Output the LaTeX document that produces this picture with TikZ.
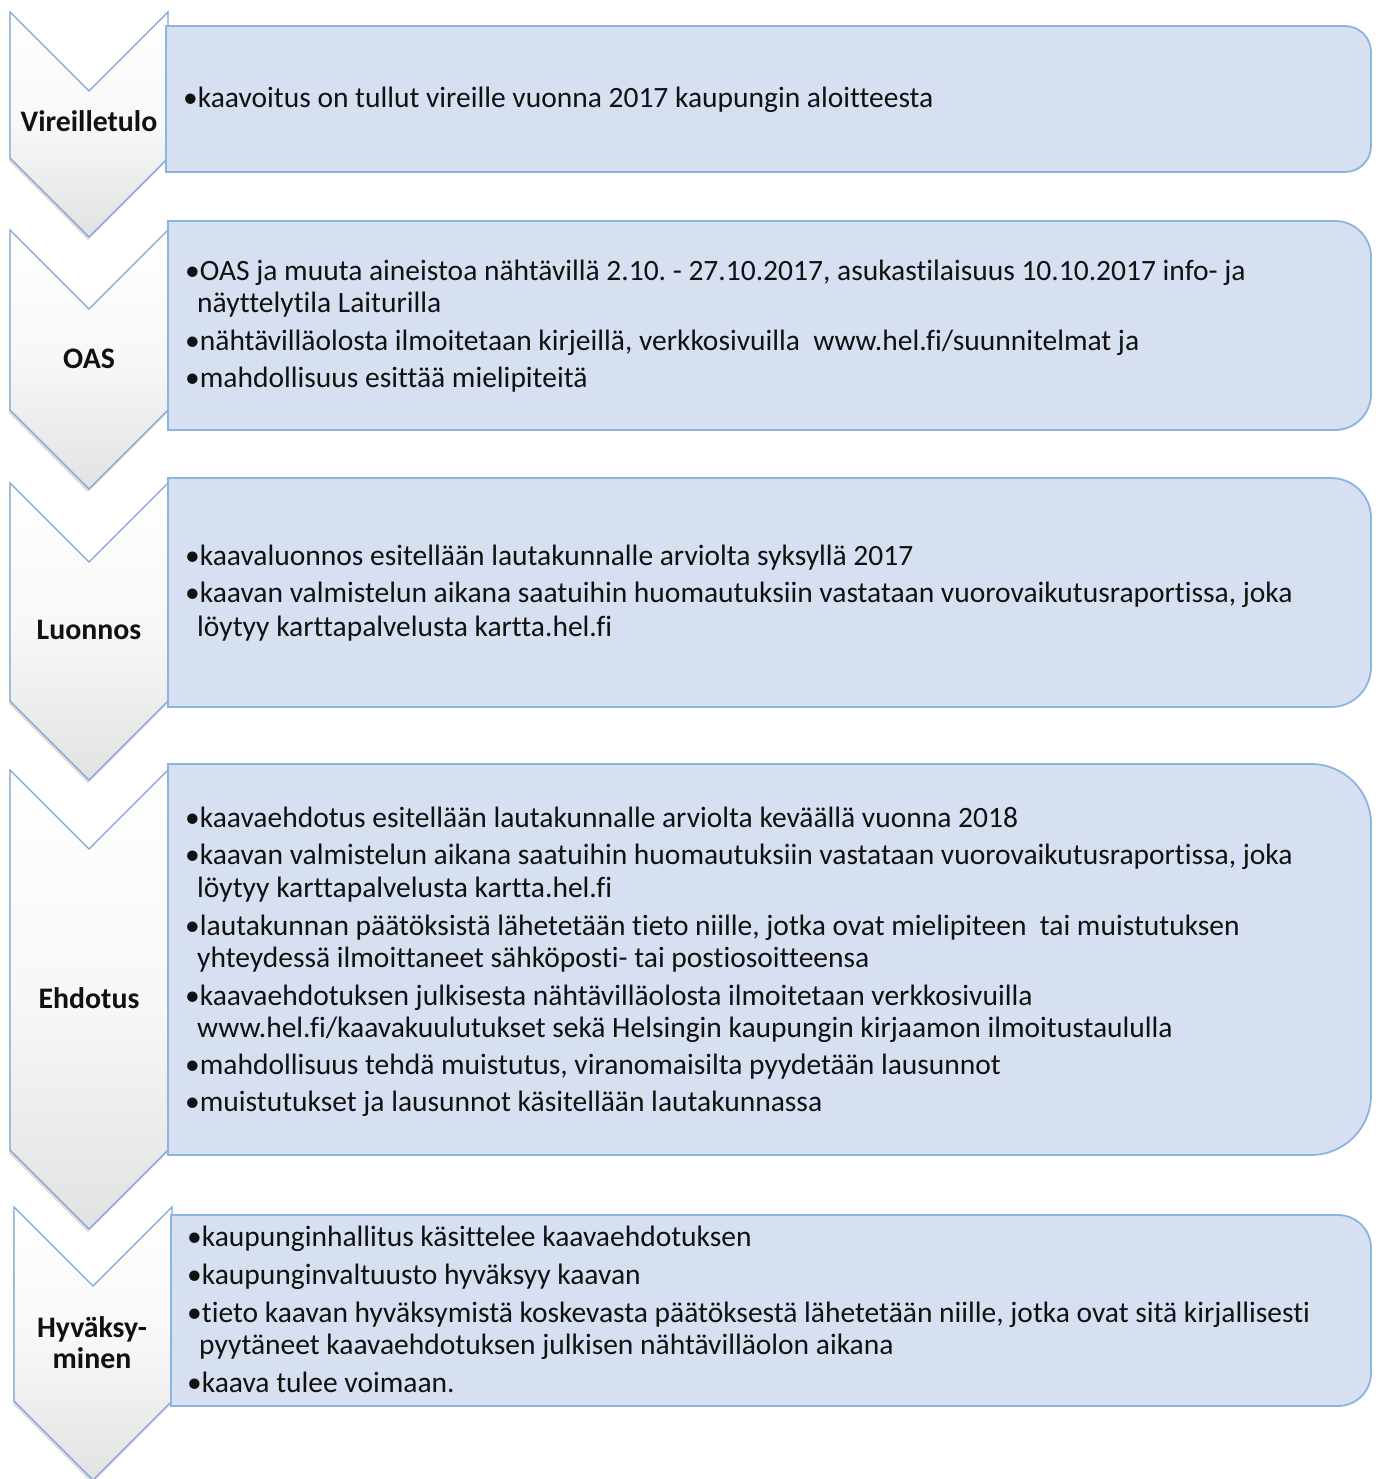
\documentclass[tikz,border=0pt]{standalone}
\usepackage{fontspec}
\setmainfont[Ligatures=NoCommon]{Carlito}
\usetikzlibrary{shadows}
\frenchspacing
\definecolor{boxfill}{HTML}{D6E0F0}
\definecolor{boxline}{HTML}{8DB3E2}
\definecolor{chevline}{HTML}{7CA5D6}
\definecolor{chevbot}{HTML}{E2E2E2}
\definecolor{txtcol}{HTML}{111111}
\tikzset{
  chevron/.style={draw=chevline, line width=1.3pt, top color=white, bottom color=chevbot, middle color=white!97!black,
    drop shadow={opacity=0.28, shadow xshift=-1pt, shadow yshift=-3pt}},
  infobox/.style={draw=boxline, line width=1.8pt, fill=boxfill},
  txt/.style={anchor=base west, inner sep=0pt, font=\fontsize{29.5}{34}\selectfont, text=txtcol},
  lbl/.style={anchor=base, inner sep=0pt, font=\fontsize{29.8}{34}\selectfont\bfseries, text=txtcol}
}
% chevron: xl, xr, yt, yb
\newcommand\mychev[4]{%
  \pgfmathsetmacro\cxm{(#1+#2)/2}\pgfmathsetmacro\cd{(#2-#1)/2}%
  \path[chevron] (#1,#3) -- (\cxm,#3+\cd) -- (#2,#3) -- (#2,#4) -- (\cxm,#4+\cd) -- (#1,#4) -- cycle;}
% box: x1, y1, x2, y2, r
\newcommand\mybox[5]{%
  \path[infobox] (#1,#2) -- ({#3-#5},#2) .. controls ({#3-0.448*#5},#2) and (#3,{#2+0.448*#5}) .. (#3,{#2+#5})
    -- (#3,{#4-#5}) .. controls (#3,{#4-0.448*#5}) and ({#3-0.448*#5},#4) .. ({#3-#5},#4) -- (#1,#4) -- cycle;}
\begin{document}
\begin{tikzpicture}[x=1pt,y=-1pt]
\useasboundingbox (0,0) rectangle (1379,1479);
\fill[white] (0,0) rectangle (1379,1479);
% chevrons
\mychev{10}{168}{12}{158}
\mychev{10}{168}{230}{410}
\mychev{10}{168}{483}{701}
\mychev{10}{168}{770}{1150}
\mychev{14}{172}{1207}{1401}
% boxes
\mybox{166}{26}{1371}{172}{26}
\mybox{168}{221}{1371}{430}{36}
\mybox{168}{478}{1371}{707}{40}
\mybox{168}{764}{1371}{1155}{60}
\mybox{171}{1215}{1371}{1406}{33}
% labels
\node[lbl] (l1) at (89,132) {Vireilletulo};
\node[lbl] (l2) at (89,368) {OAS};
\node[lbl] (l3) at (89,639) {Luonnos};
\node[lbl] (l4) at (89,1008) {Ehdotus};
\node[lbl] (l5a) at (92,1337) {Hyväksy-};
\node[lbl] (l5b) at (92,1368) {minen};
% box 1
\node[txt] (t11) at (183,108) {•kaavoitus on tullut vireille vuonna 2017 kaupungin aloitteesta};
% box 2
\node[txt] (t21) at (185,280) {•OAS ja muuta aineistoa nähtävillä 2.10. - 27.10.2017, asukastilaisuus 10.10.2017 info- ja};
\node[txt] (t22) at (197,312) {näyttelytila Laiturilla};
\node[txt] (t23) at (185,350) {•nähtävilläolosta ilmoitetaan kirjeillä, verkkosivuilla\ \ www.hel.fi/suunnitelmat ja};
\node[txt] (t24) at (185,387) {•mahdollisuus esittää mielipiteitä};
% box 3
\node[txt] (t31) at (185,565) {•kaavaluonnos esitellään lautakunnalle arviolta syksyllä 2017};
\node[txt] (t32) at (185,602) {•kaavan valmistelun aikana saatuihin huomautuksiin vastataan vuorovaikutusraportissa, joka};
\node[txt] (t33) at (197,636) {löytyy karttapalvelusta kartta.hel.fi};
% box 4
\node[txt] (t41) at (185,827) {•kaavaehdotus esitellään lautakunnalle arviolta keväällä vuonna 2018};
\node[txt] (t42) at (185,864) {•kaavan valmistelun aikana saatuihin huomautuksiin vastataan vuorovaikutusraportissa, joka};
\node[txt] (t43) at (197,897) {löytyy karttapalvelusta kartta.hel.fi};
\node[txt] (t44) at (185,935) {•lautakunnan päätöksistä lähetetään tieto niille, jotka ovat mielipiteen\ \ tai muistutuksen};
\node[txt] (t45) at (197,967) {yhteydessä ilmoittaneet sähköposti- tai postiosoitteensa};
\node[txt] (t46) at (185,1005) {•kaavaehdotuksen julkisesta nähtävilläolosta ilmoitetaan verkkosivuilla};
\node[txt] (t47) at (197,1037) {www.hel.fi/kaavakuulutukset sekä Helsingin kaupungin kirjaamon ilmoitustaululla};
\node[txt] (t48) at (185,1074) {•mahdollisuus tehdä muistutus, viranomaisilta pyydetään lausunnot};
\node[txt] (t49) at (185,1111) {•muistutukset ja lausunnot käsitellään lautakunnassa};
% box 5
\node[txt] (t51) at (187,1246) {•kaupunginhallitus käsittelee kaavaehdotuksen};
\node[txt] (t52) at (187,1284) {•kaupunginvaltuusto hyväksyy kaavan};
\node[txt] (t53) at (187,1322) {•tieto kaavan hyväksymistä koskevasta päätöksestä lähetetään niille, jotka ovat sitä kirjallisesti};
\node[txt] (t54) at (199,1354) {pyytäneet kaavaehdotuksen julkisen nähtävilläolon aikana};
\node[txt] (t55) at (187,1392) {•kaava tulee voimaan.};
\end{tikzpicture}
\end{document}
